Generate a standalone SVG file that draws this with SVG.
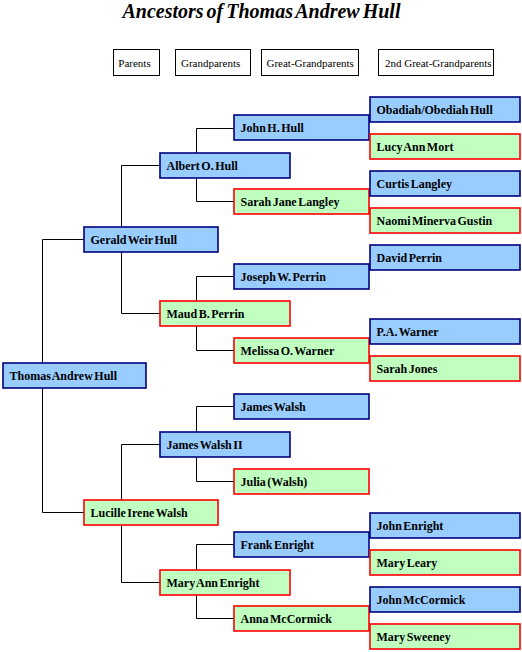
<svg xmlns="http://www.w3.org/2000/svg" width="522" height="652" viewBox="0 0 522 652">
<style>
.m rect{fill:#99CCFF;stroke:#000080;stroke-width:1.6}
.f rect{fill:#C0FFC0;stroke:#FF0000;stroke-width:1.6}
.m text,.f text{font-family:"Liberation Serif","Times New Roman",serif;font-weight:bold;font-size:12px;fill:#000;word-spacing:-1.5px}
.lg rect{fill:#fff;stroke:#000;stroke-width:1}
.lg text{font-family:"Liberation Serif","Times New Roman",serif;font-size:11px;fill:#000}
#connectors path{fill:none;stroke:#000;stroke-width:1}
</style>
<rect width="522" height="652" fill="#fff"/>
<text x="261.5" y="18" text-anchor="middle" font-family="'Liberation Serif','Times New Roman',serif" font-weight="bold" font-style="italic" font-size="20px" word-spacing="-2px">Ancestors of Thomas Andrew Hull</text>
<g id="legend" class="lg">
<rect x="113.5" y="49.5" width="46" height="26"/><text x="118.3" y="66.5">Parents</text>
<rect x="175.5" y="49.5" width="75" height="26"/><text x="181" y="66.5">Grandparents</text>
<rect x="261.5" y="49.5" width="97" height="26"/><text x="266.5" y="66.5">Great-Grandparents</text>
<rect x="378.5" y="49.5" width="115" height="26"/><text x="385" y="66.5">2nd Great-Grandparents</text>
</g>
<g id="connectors">
<path d="M84 239.5H42.5V512.5H84"/>
<path d="M160 165.5H121.5V313.5H160"/>
<path d="M160 444.5H121.5V582.5H160"/>
<path d="M234 128.5H196.5V201.5H234"/>
<path d="M234 276.5H196.5V350.5H234"/>
<path d="M234 406.5H196.5V481.5H234"/>
<path d="M234 544.5H196.5V618.5H234"/>
</g>
<g id="thomas" class="m"><rect x="3" y="363" width="143" height="25"/><text x="9.5" y="380">Thomas Andrew Hull</text></g>
<g id="gerald" class="m"><rect x="84" y="227" width="134" height="25"/><text x="90.5" y="244">Gerald Weir Hull</text></g>
<g id="lucille" class="f"><rect x="84" y="500" width="134" height="25"/><text x="90.5" y="517">Lucille Irene Walsh</text></g>
<g id="albert" class="m"><rect x="160" y="153" width="130" height="25"/><text x="166.5" y="170">Albert O. Hull</text></g>
<g id="maud" class="f"><rect x="160" y="301" width="130" height="25"/><text x="166.5" y="318">Maud B. Perrin</text></g>
<g id="jameswalsh2" class="m"><rect x="160" y="432" width="130" height="25"/><text x="166.5" y="449">James Walsh II</text></g>
<g id="maryann" class="f"><rect x="160" y="570" width="130" height="25"/><text x="166.5" y="587">Mary Ann Enright</text></g>
<g id="johnh" class="m"><rect x="234" y="115" width="135" height="25"/><text x="240.5" y="132">John H. Hull</text></g>
<g id="sarahjane" class="f"><rect x="234" y="189" width="135" height="25"/><text x="240.5" y="206">Sarah Jane Langley</text></g>
<g id="joseph" class="m"><rect x="234" y="264" width="135" height="25"/><text x="240.5" y="281">Joseph W. Perrin</text></g>
<g id="melissa" class="f"><rect x="234" y="338" width="135" height="25"/><text x="240.5" y="355">Melissa O. Warner</text></g>
<g id="jameswalsh" class="m"><rect x="234" y="394" width="135" height="25"/><text x="240.5" y="411">James Walsh</text></g>
<g id="julia" class="f"><rect x="234" y="469" width="135" height="25"/><text x="240.5" y="486">Julia (Walsh)</text></g>
<g id="frank" class="m"><rect x="234" y="532" width="135" height="25"/><text x="240.5" y="549">Frank Enright</text></g>
<g id="anna" class="f"><rect x="234" y="606" width="135" height="25"/><text x="240.5" y="623">Anna McCormick</text></g>
<g id="obadiah" class="m"><rect x="370" y="97" width="150" height="25"/><text x="376.5" y="114">Obadiah/Obediah Hull</text></g>
<g id="lucy" class="f"><rect x="370" y="134" width="150" height="25"/><text x="376.5" y="151">Lucy Ann Mort</text></g>
<g id="curtis" class="m"><rect x="370" y="171" width="150" height="25"/><text x="376.5" y="188">Curtis Langley</text></g>
<g id="naomi" class="f"><rect x="370" y="208" width="150" height="25"/><text x="376.5" y="225">Naomi Minerva Gustin</text></g>
<g id="david" class="m"><rect x="370" y="245" width="150" height="25"/><text x="376.5" y="262">David Perrin</text></g>
<g id="pawarner" class="m"><rect x="370" y="319" width="150" height="25"/><text x="376.5" y="336">P.A. Warner</text></g>
<g id="sarahjones" class="f"><rect x="370" y="356" width="150" height="25"/><text x="376.5" y="373">Sarah Jones</text></g>
<g id="johnenright" class="m"><rect x="370" y="513" width="150" height="25"/><text x="376.5" y="530">John Enright</text></g>
<g id="maryleary" class="f"><rect x="370" y="550" width="150" height="25"/><text x="376.5" y="567">Mary Leary</text></g>
<g id="johnmccormick" class="m"><rect x="370" y="587" width="150" height="25"/><text x="376.5" y="604">John McCormick</text></g>
<g id="marysweeney" class="f"><rect x="370" y="624" width="150" height="25"/><text x="376.5" y="641">Mary Sweeney</text></g>
</svg>
